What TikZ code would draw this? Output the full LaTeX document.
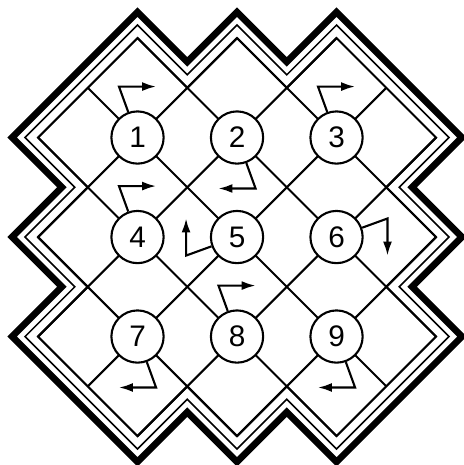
\documentclass[tikz,border=0pt]{standalone}
\usepackage{fontspec}
\setmainfont{Liberation Sans}
\usetikzlibrary{arrows.meta,positioning,calc}

% zigzag outline of the board, pushed outwards by #1
\newcommand\rimpath[1]{({-1-#1},0) -- (0,{1+#1}) -- (0.5,{0.5+#1}) -- (1,{1+#1})
  -- (1.5,{0.5+#1}) -- (2,{1+#1}) -- ({3+#1},0) -- ({2.5+#1},-0.5) -- ({3+#1},-1)
  -- ({2.5+#1},-1.5) -- ({3+#1},-2) -- (2,{-3-#1}) -- (1.5,{-2.5-#1}) -- (1,{-3-#1})
  -- (0.5,{-2.5-#1}) -- (0,{-3-#1}) -- ({-1-#1},-2) -- ({-0.5-#1},-1.5) -- ({-1-#1},-1)
  -- ({-0.5-#1},-0.5) -- cycle}

\begin{document}
\begin{tikzpicture}[x=2cm, y=2cm, node distance=2cm and 2cm, on grid,
    num/.style={circle, draw, line width=1.2pt, fill=white, minimum size=1.05cm,
      inner sep=0pt, font=\fontsize{17}{19}\selectfont},
    turn/.style={line width=1.2pt, -{Latex[length=2.8mm, width=1.8mm]}},
    lattice/.style={line width=1.2pt}]
  \useasboundingbox (-1.382,-3.291) rectangle (3.281,1.382);
  % triple rim
  \draw[line width=3.8pt] \rimpath{0.26};
  \draw[line width=0.9pt] \rimpath{0.13};
  \draw[lattice] \rimpath{0};
  % diagonal lines of the board
  \draw[lattice] (-1,-1) -- (1,1) (-1,-2) -- (2,1) (-0.5,-2.5) -- (2.5,0.5)
    (0,-3) -- (3,0) (1,-3) -- (3,-1);
  \draw[lattice] (-1,-1) -- (1,-3) (-1,0) -- (2,-3) (-0.5,0.5) -- (2.5,-2.5)
    (0,1) -- (3,-2) (1,1) -- (3,-1);
  % numbered cells
  \node[num] (c1) at (0,0) {1};
  \node[num, right=of c1] (c2) {2};
  \node[num, right=of c2] (c3) {3};
  \node[num, below=of c1] (c4) {4};
  \node[num, right=of c4] (c5) {5};
  \node[num, right=of c5] (c6) {6};
  \node[num, below=of c4] (c7) {7};
  \node[num, right=of c7] (c8) {8};
  \node[num, right=of c8] (c9) {9};
  % bent arrows
  \draw[turn] (c1) -- ($(c1)+(110:0.545)$) -- ($(c1)+(70:0.545)$);
  \draw[turn] (c2) -- ($(c2)+(290:0.545)$) -- ($(c2)+(250:0.545)$);
  \draw[turn] (c3) -- ($(c3)+(110:0.545)$) -- ($(c3)+(70:0.545)$);
  \draw[turn] (c4) -- ($(c4)+(110:0.545)$) -- ($(c4)+(70:0.545)$);
  \draw[turn] (c5) -- ($(c5)+(200:0.545)$) -- ($(c5)+(160:0.545)$);
  \draw[turn] (c6) -- ($(c6)+(20:0.545)$) -- ($(c6)+(-20:0.545)$);
  \draw[turn] (c7) -- ($(c7)+(290:0.545)$) -- ($(c7)+(250:0.545)$);
  \draw[turn] (c8) -- ($(c8)+(110:0.545)$) -- ($(c8)+(70:0.545)$);
  \draw[turn] (c9) -- ($(c9)+(290:0.545)$) -- ($(c9)+(250:0.545)$);
\end{tikzpicture}
\end{document}
